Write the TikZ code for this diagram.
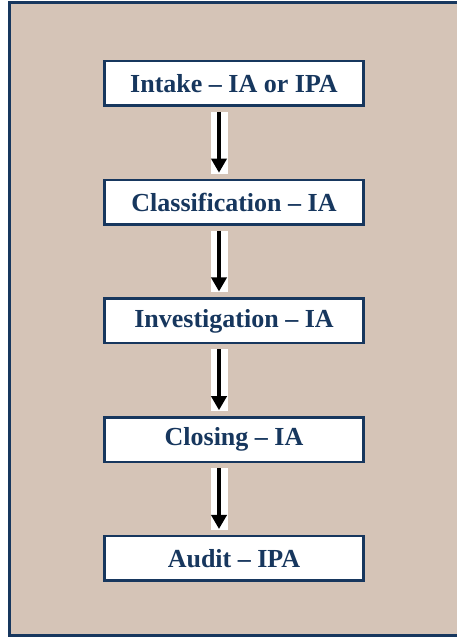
\documentclass[tikz,border=0pt]{standalone}
\usepackage{fontspec}
\setmainfont{Liberation Serif}
\usepackage{tikz}
\usetikzlibrary{arrows.meta,positioning}

\definecolor{navy}{RGB}{23,55,94}
\definecolor{tan}{RGB}{213,196,183}

\begin{document}
\begin{tikzpicture}[x=1pt,y=1pt,node distance=118.75pt,
  stage/.style={draw=navy, line width=2.5pt, fill=white, text=navy,
    minimum width=259pt, minimum height=44.5pt, inner sep=0pt,
    font=\fontsize{26}{30}\selectfont\bfseries},
  strip/.style={white, line width=17pt, shorten <=5pt, shorten >=5pt},
  flow/.style={black, line width=4.5pt, shorten <=5pt, shorten >=6pt,
    -{Triangle[length=14pt,width=15pt]}}]
\useasboundingbox (0,0) rectangle (457,637);
\draw[navy, line width=3pt, fill=tan] (9,1) rectangle (462,634);

\node[stage] at (234,553.5) (intake) {Intake – IA or IPA};
\node[stage, below of=intake] (classif) {Classification – IA};
\node[stage, below of=classif] (invest) {Investigation – IA};
\node[stage, below of=invest] (closing) {Closing – IA};
\node[stage, below of=closing] (audit) {Audit – IPA};

\foreach \a/\b in {intake/classif, classif/invest, invest/closing, closing/audit} {
  \draw[strip] ([xshift=-15pt]\a.south) -- ([xshift=-15pt]\b.north);
  \draw[flow] ([xshift=-15pt]\a.south) -- ([xshift=-15pt]\b.north);
}
\end{tikzpicture}
\end{document}
